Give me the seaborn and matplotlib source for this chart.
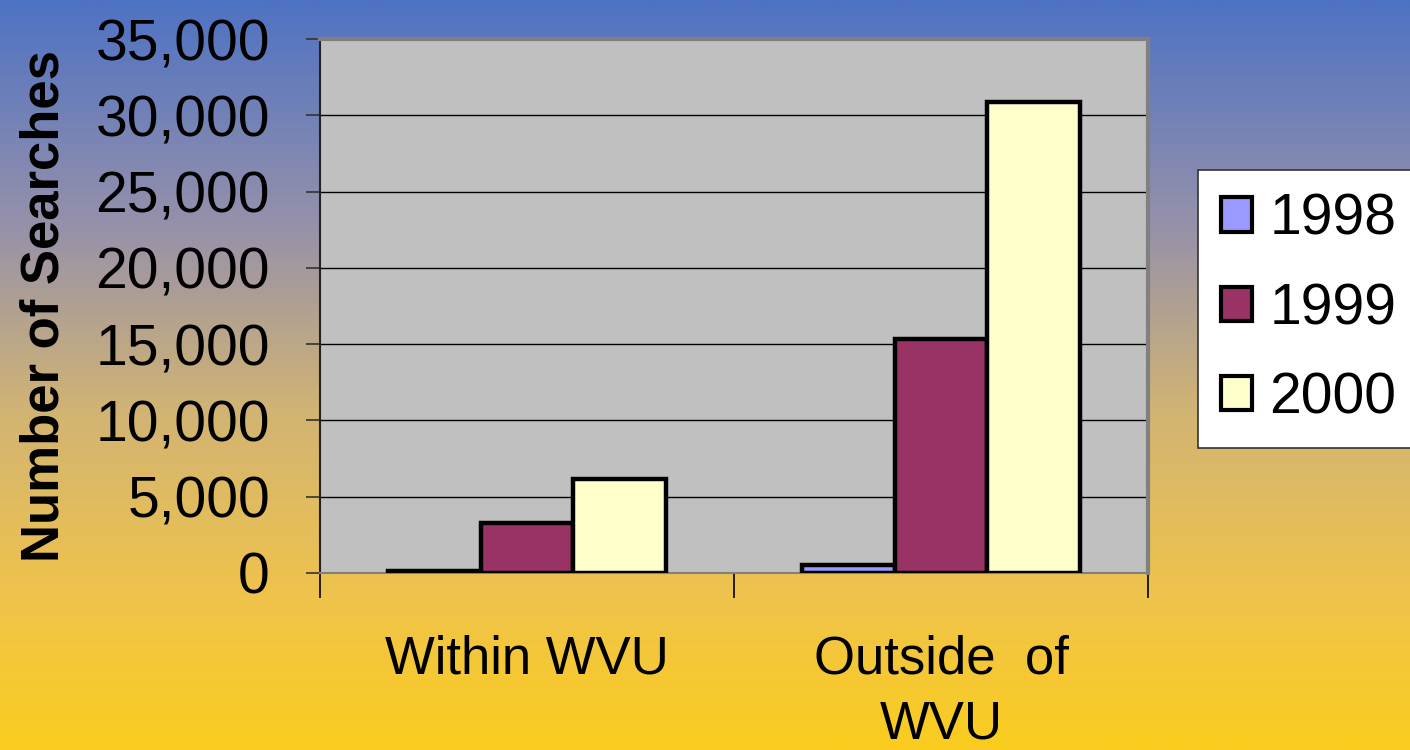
import numpy as np
import pandas as pd
import matplotlib
matplotlib.use("Agg")
import matplotlib.pyplot as plt
import seaborn as sns
from matplotlib.colors import LinearSegmentedColormap
from matplotlib.ticker import FuncFormatter, FixedLocator

categories = ["Within WVU", "Outside  of\nWVU"]
years = ["1998", "1999", "2000"]
values_1998 = [150, 550]
values_1999 = [3250, 15350]
values_2000 = [6150, 30900]
colors = ["#9999FF", "#993366", "#FFFFCC"]
yticks = [0, 5000, 10000, 15000, 20000, 25000, 30000, 35000]

rows = []
for yr, vals in zip(years, [values_1998, values_1999, values_2000]):
    for c, v in zip(categories, vals):
        rows.append({"Category": c, "Year": yr, "Searches": v})
df = pd.DataFrame(rows)

sns.set_theme(style="white")
plt.rcParams["font.family"] = ["Liberation Sans", "DejaVu Sans"]
plt.rcParams["text.color"] = "black"
plt.rcParams["axes.labelcolor"] = "black"
plt.rcParams["xtick.color"] = "black"
plt.rcParams["ytick.color"] = "black"

fig = plt.figure(figsize=(14.1, 7.5), dpi=100)

# background gradient
bg = fig.add_axes([0, 0, 1, 1], zorder=-10)
cmap = LinearSegmentedColormap.from_list(
    "bg",
    [(0.0, (78/255, 114/255, 196/255)),
     (0.3, (150/255, 145/255, 170/255)),
     (0.55, (210/255, 180/255, 115/255)),
     (0.8, (240/255, 195/255, 75/255)),
     (1.0, (250/255, 205/255, 30/255))])
grad = np.linspace(0, 1, 256).reshape(-1, 1)
bg.imshow(grad, aspect="auto", cmap=cmap, extent=[0, 1, 0, 1], origin="upper")
bg.axis("off")

ax = fig.add_axes([320/1410, (750-573)/750, (1148-320)/1410, (573-39)/750])
ax.set_facecolor("#C0C0C0")

sns.barplot(data=df, x="Category", y="Searches", hue="Year",
            palette=colors, saturation=1, width=0.67, edgecolor="black",
            linewidth=3.2, ax=ax, legend=True, zorder=3)

ax.set_ylim(0, 35000)
ax.set_xlim(-0.5, 1.5)
ax.yaxis.set_major_locator(FixedLocator(yticks))
ax.yaxis.set_major_formatter(FuncFormatter(lambda v, p: f"{int(v):,}"))
ax.yaxis.grid(True, color="black", linewidth=1.0, zorder=0)
ax.set_axisbelow(True)
ax.tick_params(axis="y", labelsize=41, length=10, width=1.2, color="#333333",
               left=True, pad=26, labelcolor="black")
ax.set_ylabel("Number of Searches", fontsize=38, fontweight="bold",
              labelpad=19, color="black")
ax.set_xlabel("")

# x tick labels at category centers, tick marks at boundaries
ax.set_xticks([0, 1])
ax.set_xticklabels(categories, fontsize=38, linespacing=1.4, va="top")
ax.tick_params(axis="x", length=0, pad=44, labelcolor="black")
ax.set_xticks([-0.5, 0.5, 1.5], minor=True)
ax.tick_params(axis="x", which="minor", length=18, width=1.2, color="black", bottom=True)

for side in ["top", "right"]:
    ax.spines[side].set_visible(True)
    ax.spines[side].set_color("#808080")
    ax.spines[side].set_linewidth(3)
ax.spines["left"].set_color("#222222")
ax.spines["left"].set_linewidth(1.5)
ax.spines["bottom"].set_color("#808080")
ax.spines["bottom"].set_linewidth(1.5)

leg = ax.legend(loc="upper left", bbox_to_anchor=((1198-320)/(1148-320), (573-170)/(573-39)),
                fontsize=41, frameon=True, fancybox=False, edgecolor="#333333",
                framealpha=1.0, handlelength=0.55, handleheight=0.55,
                handletextpad=0.3, labelspacing=0.62, borderpad=0.4,
                borderaxespad=0)
leg.get_frame().set_linewidth(1.2)
for h in leg.legend_handles:
    h.set_linewidth(3)
    h.set_edgecolor("black")

fig.savefig("out.png", dpi=100)
